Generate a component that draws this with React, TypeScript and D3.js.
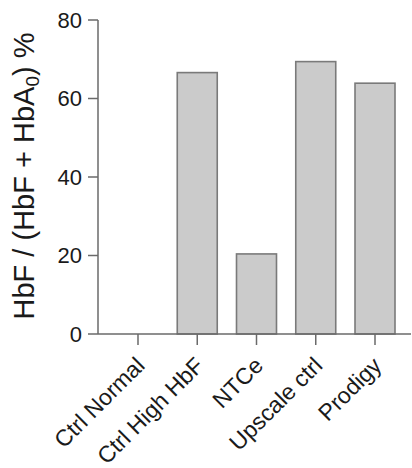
import React from "react";
import * as d3 from "d3";

const categories = ["Ctrl Normal", "Ctrl High HbF", "NTCe", "Upscale ctrl", "Prodigy"];
const values = [0, 66.6, 20.4, 69.4, 63.9];
const yTicks = [0, 20, 40, 60, 80];

export default function App() {
  const W = 412, H = 468;
  const axisX = 98, axisEnd = 411;
  const y = d3.scaleLinear().domain([0, 80]).range([334, 20]);
  const x = d3.scaleBand().domain(categories).range([118, 395]).paddingInner(0.325).paddingOuter(0);
  const bw = x.bandwidth();
  const axisColor = "#6a6a6a";
  const font = "'Liberation Sans', Arial, Helvetica, sans-serif";
  return (
    <svg width={W} height={H} style={{ position: "absolute", left: 0, top: 0, background: "#fff" }}>
      {categories.map((c, i) => (
        <rect key={c} x={x(c)!} y={y(values[i])} width={bw} height={y(0) - y(values[i])}
          fill="#cbcbcb" stroke="#7a7a7a" strokeWidth={1.6} />
      ))}
      <line x1={axisX} x2={axisX} y1={y(80)} y2={y(0)} stroke={axisColor} strokeWidth={1.5} />
      <line x1={axisX} x2={axisEnd} y1={y(0)} y2={y(0)} stroke={axisColor} strokeWidth={1.5} />
      {yTicks.map(t => (
        <g key={t}>
          <line x1={axisX - 10} x2={axisX} y1={y(t)} y2={y(t)} stroke={axisColor} strokeWidth={1.5} />
          <text x={axisX - 16} y={y(t)} dy="0.36em" textAnchor="end" fontSize={22} fontFamily={font} fill="#1a1a1a">{t}</text>
        </g>
      ))}
      {categories.map(c => {
        const cx = x(c)! + bw / 2;
        return (
          <g key={c}>
            <line x1={cx} x2={cx} y1={y(0)} y2={y(0) + 11} stroke={axisColor} strokeWidth={1.5} />
            <text transform={`translate(${cx + 8},${y(0) + 33}) rotate(-45)`} textAnchor="end"
              fontSize={23} fontFamily={font} fill="#1a1a1a">{c}</text>
          </g>
        );
      })}
      <text transform={`translate(34,176) rotate(-90)`} textAnchor="middle" fontSize={29} fontFamily={font} fill="#1a1a1a">
        HbF / (HbF + HbA<tspan fontSize={19} dy="5">0</tspan><tspan dy="-5">) %</tspan>
      </text>
    </svg>
  );
}
